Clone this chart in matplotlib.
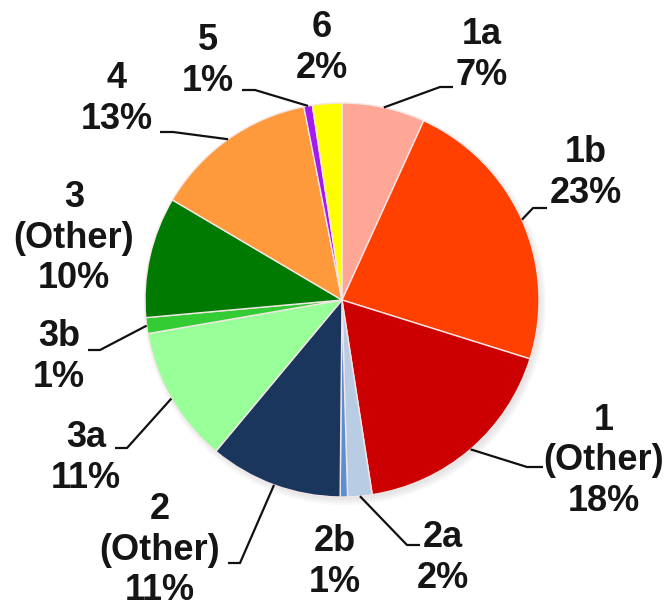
import numpy as np
import matplotlib
matplotlib.use("Agg")
import matplotlib.pyplot as plt
from matplotlib.patches import Circle

# ---- data ----
names = ["1a", "1b", "1\n(Other)", "2a", "2b", "2\n(Other)",
         "3a", "3b", "3\n(Other)", "4", "5", "6"]
values = [6.8, 23.0, 17.7, 2.0, 0.6, 10.9, 11.2, 1.3, 9.9, 13.4, 0.7, 2.4]
colors = ["#FFA797", "#FF4000", "#CC0000", "#B8CCE4", "#5B8FD3", "#1B365D",
          "#99FF99", "#33CC33", "#007A00", "#FF9A3C", "#A21CF0", "#FFFF00"]

# ---- layout (pixel coordinates, origin top-left) ----
W, H = 667, 609
center_px = (342, 300)
radius = 197
label_pos = [(482, 55), (586, 173), (604, 461), (443, 558), (335, 562), (160, 550),
             (86, 458), (59, 357), (74, 238), (117, 99), (208, 61), (322, 48)]
# (end near label, elbow) for leader lines; None = no leader
leaders = [((453, 87), (440, 87)), ((547, 208), (533, 208)), ((543, 467), (527, 467)),
           ((420, 545), (407, 545)), None, ((228, 563), (240, 563)),
           ((115, 448), (127, 448)), ((88, 350), (100, 350)), None,
           ((160, 132), (173, 132)), ((242, 90), (255, 90)), None]


def P(x, y):
    return x, H - y


fig = plt.figure(figsize=(W / 100, H / 100), dpi=100)
ax = fig.add_axes([0, 0, 1, 1])
ax.set_xlim(0, W)
ax.set_ylim(0, H)
ax.set_aspect("equal")
ax.axis("off")

cx, cy = P(*center_px)

# soft shadow
for i, a in enumerate([0.05, 0.05, 0.05, 0.05]):
    ax.add_patch(Circle((cx + 3, cy - 4), radius + 4 - i * 2, color="#808080",
                        alpha=a, lw=0, zorder=0))

wedges, _ = ax.pie(values, colors=colors, startangle=90, counterclock=False,
                   center=(cx, cy), radius=radius, frame=True,
                   wedgeprops=dict(edgecolor="#F4E6E6", linewidth=1.0))
ax.set_xlim(0, W)
ax.set_ylim(0, H)
ax.axis("off")

total = sum(values)
for w, name, v, lp, ld in zip(wedges, names, values, label_pos, leaders):
    txt = f"{name}\n{round(v / total * 100)}%"
    ax.text(*P(*lp), txt, ha="center", va="center", fontsize=26,
            fontweight="bold", family=["Liberation Sans", "DejaVu Sans"],
            color="#151515", linespacing=1.22, zorder=5)
    if ld is not None:
        mid = np.deg2rad((w.theta1 + w.theta2) / 2)
        px = cx + radius * np.cos(mid)
        py = cy + radius * np.sin(mid)
        (ex, ey), (bx, by) = ld
        ex, ey = P(ex, ey)
        bx, by = P(bx, by)
        ax.plot([ex, bx, px], [ey, by, py], color="#111111", lw=1.6,
                solid_capstyle="butt", zorder=4)

fig.savefig("out.png", dpi=100, facecolor="white")
